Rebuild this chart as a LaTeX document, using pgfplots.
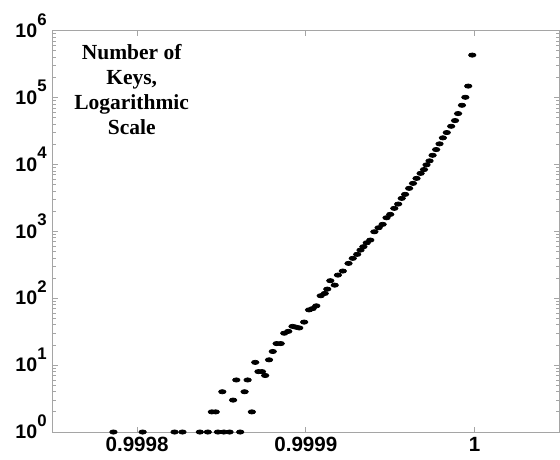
\documentclass[border=0pt]{standalone}
\usepackage{pgfplots}
\pgfplotsset{compat=1.18}
\usepackage{fontspec}
\setmainfont{Liberation Sans}
\newfontfamily\timesfont{Liberation Serif}

\definecolor{axisgray}{RGB}{165,165,165}

% superscripted decade label, the exponent does not shift the label centre
\newcommand{\dec}[1]{\textbf{10}\smash{\raisebox{6.2pt}{\fontsize{8.4}{9}\selectfont\textbf{#1}}}}

\begin{document}
\begin{tikzpicture}
\begin{axis}[
    name=ax,
    scale only axis,
    width=253.2pt, height=200.7pt,
    xmin=0.99975, xmax=1.00005,
    ymode=log, ymin=1, ymax=1e6,
    xtick={0.9998,0.9999,1},
    xticklabels={0.9998,0.9999,1},
    ytick={1,10,100,1000,10000,100000,1000000},
    yticklabels={\dec{0},\dec{1},\dec{2},\dec{3},\dec{4},\dec{5},\dec{6}},
    xticklabel style={font=\fontsize{10.3}{12}\selectfont\bfseries, yshift=1pt},
    yticklabel style={font=\fontsize{9.8}{11}\selectfont, xshift=0.5pt},
    axis line style={axisgray},
    every tick/.style={axisgray},
    tick align=inside,
    major tick length=2.5pt,
    minor tick length=1.5pt,
    clip=false,
]
\addplot[only marks, mark=*, mark size=1.05pt,
         mark options={xscale=1.75, fill=black, draw=black}]
table {
x y
0.999786 1
0.9998033 1
0.9998222 1
0.9998269 1
0.9998372 1
0.9998419 1
0.9998443 2
0.9998466 2
0.9998479 1
0.9998505 4
0.9998514 1
0.9998548 1
0.9998569 3
0.9998588 6
0.9998611 1
0.9998637 4
0.9998655 6
0.999868 2
0.99987 11
0.9998719 8
0.999874 8
0.9998759 7
0.9998782 12
0.9998804 16
0.9998827 21
0.9998851 21
0.9998872 30
0.9998896 32
0.9998921 38
0.999894 37
0.9998961 36
0.999899 44
0.9999019 67
0.999904 70
0.9999062 77
0.9999088 109
0.9999112 118
0.9999127 137
0.9999145 183
0.9999171 157
0.999919 222
0.9999219 255
0.9999253 332
0.9999278 395
0.9999304 453
0.9999324 525
0.9999341 589
0.9999361 675
0.9999382 741
0.9999406 986
0.9999431 1132
0.9999455 1273
0.9999478 1597
0.99995 1795
0.9999524 2207
0.9999547 2559
0.9999568 3113
0.9999588 3573
0.9999612 4394
0.9999635 5216
0.9999656 6195
0.999968 7360
0.99997 8390
0.9999715 9870
0.9999733 11320
0.9999751 13720
0.9999772 16710
0.9999792 20330
0.9999812 25000
0.9999835 30000
0.9999861 37240
0.9999884 45300
0.9999902 57660
0.9999925 76740
0.9999945 101000
0.9999962 148500
0.9999986 431700
};
\node[anchor=north, inner sep=0pt, align=center,
      font=\timesfont\fontsize{10.75}{12.5}\selectfont\bfseries]
  at (rel axis cs:0.156,0.966)
  {Number of\\Keys,\\Logarithmic\\Scale};
\end{axis}
\pgfresetboundingbox
\path[use as bounding box]
  ([xshift=-26.35pt,yshift=-13.5pt]ax.south west)
  rectangle ([xshift=0.5pt,yshift=15.35pt]ax.north east);
\end{tikzpicture}
\end{document}
